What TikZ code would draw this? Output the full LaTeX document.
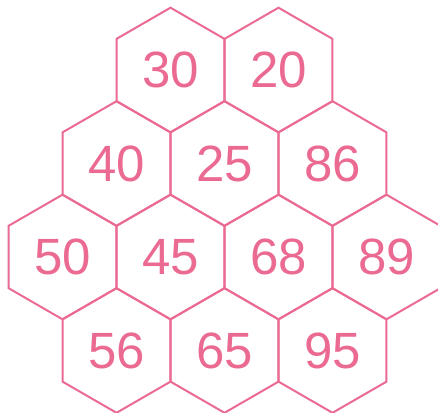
\documentclass[tikz,border=0pt]{standalone}
\usepackage{fontspec}
\setmainfont{Liberation Sans}
\usetikzlibrary{shapes.geometric}
\definecolor{hexpink}{RGB}{235,106,146}
\tikzset{
  hex/.style={regular polygon, regular polygon sides=6, shape border rotate=30,
    minimum size=124.6pt, inner sep=0pt, outer sep=0pt, draw=hexpink, line width=2pt,
    text=hexpink, font=\fontsize{51}{51}\selectfont}
}
\begin{document}
\begin{tikzpicture}[x=1pt,y=-1pt]
\useasboundingbox (0,0) rectangle (438,412);
\clip (0,0) rectangle (438,412);
\node[hex] (h30) at (170.5,70) {30};
\node[hex] (h20) at (278.5,70) {20};
\node[hex] (h40) at (116.5,163.5) {40};
\node[hex] (h25) at (224.5,163.5) {25};
\node[hex] (h86) at (332.5,163.5) {86};
\node[hex] (h50) at (62.5,257) {50};
\node[hex] (h45) at (170.5,257) {45};
\node[hex] (h68) at (278.5,257) {68};
\node[hex] (h89) at (386.5,257) {89};
\node[hex] (h56) at (116.5,350.5) {56};
\node[hex] (h65) at (224.5,350.5) {65};
\node[hex] (h95) at (332.5,350.5) {95};
\end{tikzpicture}
\end{document}
